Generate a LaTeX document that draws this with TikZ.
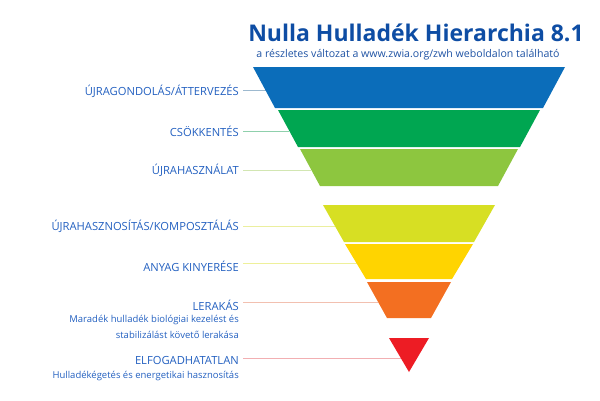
\documentclass[tikz,border=0pt]{standalone}
\usepackage{fontspec}
\setmainfont{Open Sans}
\usepackage{xcolor}
\usetikzlibrary{positioning,calc}
\pgfdeclarelayer{background}
\pgfsetlayers{background,main}

\definecolor{zwTitle}{HTML}{0E4DA4}
\definecolor{zwText}{HTML}{2360C0}
\definecolor{zwBlue}{HTML}{0B6DBA}
\definecolor{zwGreen}{HTML}{00A651}
\definecolor{zwLime}{HTML}{8DC63F}
\definecolor{zwYelGreen}{HTML}{D7DF23}
\definecolor{zwYellow}{HTML}{FFD400}
\definecolor{zwOrange}{HTML}{F36F21}
\definecolor{zwRed}{HTML}{ED1C24}
% leader line colours
\definecolor{ldBlue}{HTML}{9DB9CF}
\definecolor{ldGreen}{HTML}{8FD0AC}
\definecolor{ldLime}{HTML}{D2E6B2}
\definecolor{ldYelGreen}{HTML}{EBEF9E}
\definecolor{ldYellow}{HTML}{EEF09A}
\definecolor{ldOrange}{HTML}{F2C0B0}
\definecolor{ldRed}{HTML}{F2AFB2}

\tikzset{
    lvl/.style={font=\fontsize{11.2}{13}\selectfont, text=zwText, anchor=east, inner sep=0pt},
    sublvl/.style={font=\fontsize{9.5}{14}\selectfont, text=zwText, align=right, anchor=north east, inner sep=0pt},
    leader/.style={line width=1pt}
}

\begin{document}
\begin{tikzpicture}[x=1pt,y=-1pt]
    \useasboundingbox (0,0) rectangle (600,400);

    % Title
    \node[font=\bfseries\fontsize{23}{26}\selectfont, text=zwTitle, inner sep=0pt] (title) at (416,33) {Nulla Hulladék Hierarchia 8.1};
    \node[font=\fontsize{10.6}{12}\selectfont, text=zwText!85!black, inner sep=0pt] (sub) at (408,55) {a részletes változat a www.zwia.org/zwh weboldalon található};

    % Layers: name/top/bottom/top half-width/bottom half-width/colour
    \foreach \n/\ya/\yb/\wa/\wb/\fc in {rethink/67/108/156/134/zwBlue, reduce/110/147/131/111/zwGreen, reuse/149/186/109/89/zwLime, recycle/205/242/86/65/zwYelGreen, recover/244/279/64/43/zwYellow, landfill/282/318/42/22/zwOrange} {
        \coordinate (\n-tl) at (409-\wa,\ya);
        \coordinate (\n-bl) at (409-\wb,\yb);
        \fill[fill=\fc] (\n-tl) -- (409+\wa,\ya) -- (409+\wb,\yb) -- (\n-bl) -- cycle;
        \coordinate (\n-e) at ($(\n-tl)!0.57!(\n-bl)$);
    }
    % Bottom triangle
    \coordinate (burn-tl) at (389,338);
    \coordinate (burn-b) at (409,372);
    \fill[zwRed] (burn-tl) -- (429,338) -- (burn-b) -- cycle;
    \coordinate (burn-e) at ($(burn-tl)!0.59!(burn-b)$);

    % Labels
    \node[lvl] (l-rethink) at (239,91) {ÚJRAGONDOLÁS/ÁTTERVEZÉS};
    \node[lvl] (l-reduce) at (239,131) {CSÖKKENTÉS};
    \node[lvl] (l-reuse) at (239,170) {ÚJRAHASZNÁLAT};
    \node[lvl] (l-recycle) at (239,226) {ÚJRAHASZNOSÍTÁS/KOMPOSZTÁLÁS};
    \node[lvl] (l-recover) at (239,266) {ANYAG KINYERÉSE};
    \node[lvl] (l-landfill) at (239,305) {LERAKÁS};
    \node[sublvl] (s-landfill) at (239,315) {Maradék hulladék biológiai kezelést és\\[2pt]stabilizálást követő lerakása};
    \node[lvl] (l-burn) at (239,360) {ELFOGADHATATLAN};
    \node[sublvl] (s-burn) at (239,371) {Hulladékégetés és energetikai hasznosítás};

    % Leader lines (behind everything)
    \begin{pgfonlayer}{background}
    \foreach \n/\lc in {rethink/ldBlue, reduce/ldGreen, reuse/ldLime, recycle/ldYelGreen, recover/ldYellow, landfill/ldOrange, burn/ldRed} {
        \draw[leader, draw=\lc] ([xshift=4pt]l-\n.east |- \n-e) -- (\n-e);
    }
    \end{pgfonlayer}
\end{tikzpicture}
\end{document}
